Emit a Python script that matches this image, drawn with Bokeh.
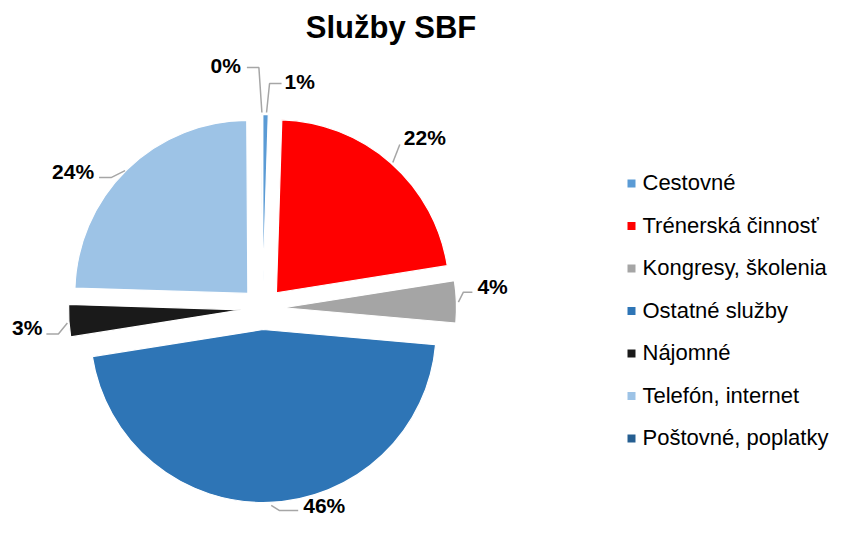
import numpy as np
from bokeh.plotting import figure
from bokeh.models import Range1d, ColumnDataSource
from bokeh.core.properties import value
from bokeh.embed import file_html
from bokeh.resources import INLINE

# ---------------- data ----------------
categories = ["Cestovné", "Trénerská činnosť", "Kongresy, školenia", "Ostatné služby",
              "Nájomné", "Telefón, internet", "Poštovné, poplatky"]
values = [0.5, 22.0, 3.9, 46.1, 3.0, 24.4, 0.1]
colors = ["#5B9BD5", "#FF0000", "#A5A5A5", "#2E75B6", "#1A1A1A", "#9DC3E6", "#255E91"]
title = "Služby SBF"

# ---------------- layout ----------------
W, H = 832, 517
PAGE_H = 533           # data y = PAGE_H - screen y
CX, CY = 262, PAGE_H - 308
R = 173
EXPLODE = 21
FONT = value("Liberation Sans")
MID = 0.3465           # baseline lies this many em below the "middle" anchor

LBL_FS, TITLE_FS, LEG_FS = 21, 31, 22

# label layout: offsets from the slice's outer anchor (screen px, y down)
# (leader start, elbow, end, text baseline point, alignment) in category order
lbl_layout = [
    ((1, -2), (4, -31), (16, -31), (19, -26), "left"),          # Cestovné
    ((2, -0.5), (9, -18.5), (9, -18.5), (13, -18.5), "left"),   # Trénerská
    ((2, 0.4), (7, -9.6), (16, -9.6), (21, -7.6), "left"),      # Kongresy
    ((2, 3), (10, 8), (29, 8), (34, 10), "left"),               # Ostatné
    ((-1.5, 2.4), (-10.5, 13.4), (-22.5, 13.4), (-26.5, 14.4), "right"),  # Nájomné
    ((-2, 1), (-16, 8), (-28, 8), (-33, 9), "right"),           # Telefón
    ((0, -2), (-3, -47), (-15, -47), (-21, -42), "right"),      # Poštovné
]

vals = np.array(values, dtype=float)
pct = vals / vals.sum() * 100
labels = [f"{int(np.floor(x + 0.5))}%" for x in pct]
cum = np.concatenate([[0], np.cumsum(vals)]) / vals.sum() * 360.0   # clockwise from top
a0, a1 = cum[:-1], cum[1:]
mid = np.radians((a0 + a1) / 2)
wx = CX + EXPLODE * np.sin(mid)
wy = CY + EXPLODE * np.cos(mid)
start = np.radians(90 - a1)
end = np.radians(90 - a0)

p = figure(width=W, height=H, x_range=Range1d(0, W), y_range=Range1d(PAGE_H - H, PAGE_H),
           output_backend="svg", toolbar_location=None, min_border=0,
           x_axis_type=None, y_axis_type=None)
p.grid.visible = False
p.outline_line_color = None
p.background_fill_color = "white"
p.border_fill_color = "white"

src = ColumnDataSource(dict(x=wx, y=wy, start=start, end=end, color=colors))
p.wedge(x="x", y="y", radius=R, start_angle="start", end_angle="end", direction="anticlock",
        fill_color="color", line_color="white", line_width=1.2, source=src)

# data labels with leader lines
ax = CX + (R + EXPLODE) * np.sin(mid)
ay = CY + (R + EXPLODE) * np.cos(mid)
lx, ly, tx, ty, tt, ta = [], [], [], [], [], []
for i, (s, e1, e2, t, al) in enumerate(lbl_layout):
    lx.append([ax[i] + s[0], ax[i] + e1[0], ax[i] + e2[0]])
    ly.append([ay[i] - s[1], ay[i] - e1[1], ay[i] - e2[1]])
    tx.append(ax[i] + t[0])
    ty.append(ay[i] - t[1] + MID * LBL_FS)
    tt.append(labels[i]); ta.append(al)
p.multi_line(lx, ly, line_color="#A6A6A6", line_width=1.5)
p.text(x=tx, y=ty, text=tt, text_align=ta, text_baseline="middle",
       text_font=FONT, text_font_style="bold", text_font_size=f"{LBL_FS}px", text_color="black")

# title
p.text(x=[390.5], y=[PAGE_H - 38 + MID * TITLE_FS], text=[title], text_align="center",
       text_baseline="middle", text_font=FONT, text_font_style="bold",
       text_font_size=f"{TITLE_FS}px", text_color="black")

# legend (manual)
LEG_X, LEG_Y0, LEG_DY = 631, 183, 42.5
ly_c = [PAGE_H - (LEG_Y0 + i * LEG_DY) for i in range(len(categories))]
p.rect(x=[LEG_X] * len(categories), y=ly_c, width=8, height=8, fill_color=colors, line_color=None)
p.text(x=[LEG_X + 11] * len(categories), y=[v - 7 + MID * LEG_FS for v in ly_c], text=categories,
       text_align="left", text_baseline="middle", text_font=FONT,
       text_font_size=f"{LEG_FS}px", text_color="black")

open("out.html", "w").write(file_html(p, INLINE))
